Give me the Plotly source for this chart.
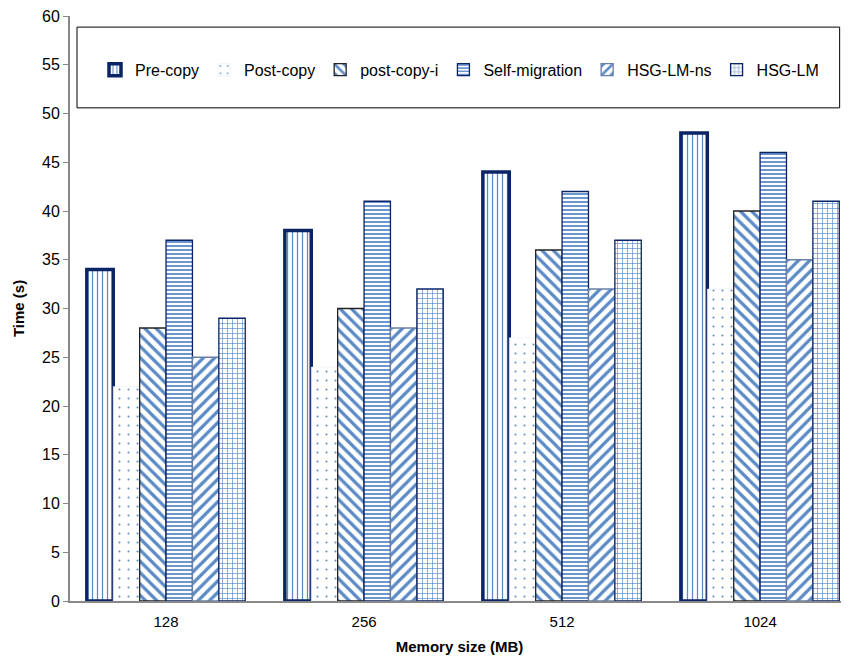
import plotly.graph_objects as go

categories = ["128", "256", "512", "1024"]
series_names = ["Pre-copy", "Post-copy", "post-copy-i", "Self-migration", "HSG-LM-ns", "HSG-LM"]
pre_copy = [34, 38, 44, 48]
post_copy = [22, 24, 27, 32]
post_copy_i = [28, 30, 36, 40]
self_migration = [37, 41, 42, 46]
hsg_lm_ns = [25, 28, 32, 35]
hsg_lm = [29, 32, 37, 41]
y_ticks = list(range(0, 61, 5))

values = [pre_copy, post_copy, post_copy_i, self_migration, hsg_lm_ns, hsg_lm]
blue = "#5b8ac6"
navy = "#0b2466"
styles = [
    dict(shape="|", size=5, solidity=0.25, line_color=navy, line_width=3.5),
    dict(shape=".", size=9, solidity=0.04, line_color="#e0e6f0", line_width=0.5),
    dict(shape="\\", size=8, solidity=0.4, line_color="#222222", line_width=1.3),
    dict(shape="-", size=4, solidity=0.45, line_color=navy, line_width=1.3),
    dict(shape="/", size=8, solidity=0.4, line_color="#6a7fa8", line_width=1.3),
    dict(shape="+", size=5, solidity=0.25, line_color=navy, line_width=1.3),
]

xpos = list(range(len(categories)))
fig = go.Figure()
for name, vals, st in zip(series_names, values, styles):
    fig.add_trace(go.Bar(
        x=xpos, y=vals, name=name,
        marker=dict(
            color="white",
            pattern=dict(shape=st["shape"], size=st["size"], solidity=st["solidity"],
                         fgcolor=blue, bgcolor="white", fillmode="replace"),
            line=dict(color=st["line_color"], width=st["line_width"]),
        ),
    ))

fig.add_shape(type="rect", xref="paper", yref="paper",
              x0=0.009, x1=0.988, y0=0.843, y1=0.981,
              line=dict(color="black", width=1), fillcolor="white", layer="below")

# page body has an 8px default margin, so offset the figure accordingly
fig.update_layout(
    width=841, height=653,
    margin=dict(l=62, r=0, t=8, b=60),
    paper_bgcolor="white", plot_bgcolor="white",
    font=dict(family="Liberation Sans, Arial, sans-serif", size=15, color="black"),
    barmode="group", bargap=0.2, bargroupgap=0,
    showlegend=True,
    legend=dict(orientation="h", x=0.5, xanchor="center", y=0.908, yanchor="middle",
                font=dict(size=16), bgcolor="rgba(0,0,0,0)", itemwidth=30,
                traceorder="normal"),
    xaxis=dict(
        tickmode="array", tickvals=xpos, ticktext=categories, automargin=False,
        range=[-0.485, 3.449], showline=True, linecolor="#888888", linewidth=2,
        ticks="", showgrid=False, zeroline=False, tickfont=dict(size=15),
        ticklabelstandoff=6,
        title=dict(text="<b>Memory size (MB)</b>", font=dict(size=15), standoff=12),
    ),
    yaxis=dict(
        range=[0, 60], tickmode="array", tickvals=y_ticks, automargin=False,
        showline=True, linecolor="#888888", linewidth=2,
        ticks="outside", tickcolor="#888888", ticklen=5, tickwidth=1,
        showgrid=False, zeroline=False, tickfont=dict(size=16),
        ticklabeloverflow="allow",
        title=dict(text="<b>Time (s)</b>", font=dict(size=15), standoff=14),
    ),
)

fig.write_html("out.html")
